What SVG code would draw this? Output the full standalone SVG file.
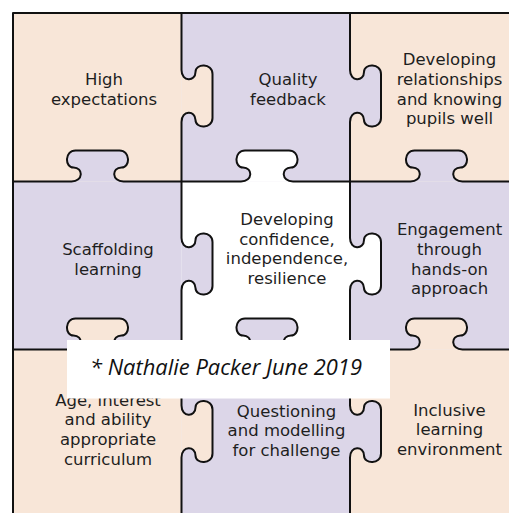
<svg xmlns="http://www.w3.org/2000/svg" width="509" height="513" viewBox="0 0 509 513">
<style>
.beige{fill:#F8E6D8}
.purple{fill:#DCD6E8}
.white{fill:#FFFFFF}
.lbl{font-family:"DejaVu Sans","Verdana",sans-serif;font-size:16.5px;fill:#1E1E1E;text-anchor:middle}
.edge{fill:none;stroke:#111111;stroke-width:2;stroke-linejoin:round}
.note{font-family:"Open Sans","Liberation Sans",sans-serif;font-style:italic;font-size:22px;fill:#111111}
</style>
<rect x="0" y="0" width="509" height="513" fill="#FFFFFF"/>
<!-- pieces: drawn so that tabs overlay neighbours -->
<g id="piece-1-3">
<rect class="beige" x="350" y="13" width="170" height="168.5"/>
<text class="lbl" x="449.5" y="65">Developing</text>
<text class="lbl" x="449.5" y="85">relationships</text>
<text class="lbl" x="449.5" y="104.5">and knowing</text>
<text class="lbl" x="449.5" y="124">pupils well</text>
</g>
<g id="piece-1-2">
<rect class="purple" x="181.5" y="13" width="168.5" height="168.5"/>
<path class="purple" d="M350,70 C350,82 364,82 364,72 C364,63 381,63 381,74 L381,118 C381,129 364,129 364,120 C364,110 350,110 350,122 Z"/>
<text class="lbl" x="288" y="85">Quality</text>
<text class="lbl" x="288" y="104.5">feedback</text>
</g>
<g id="piece-1-1">
<rect class="beige" x="13" y="13" width="168.5" height="168.5"/>
<path class="beige" d="M181.5,70 C181.5,82 195.5,82 195.5,72 C195.5,63 212.5,63 212.5,74 L212.5,118 C212.5,129 195.5,129 195.5,120 C195.5,110 181.5,110 181.5,122 Z"/>
<text class="lbl" x="104" y="85">High</text>
<text class="lbl" x="104" y="104.5">expectations</text>
</g>
<g id="piece-2-3">
<rect class="purple" x="350" y="181.5" width="170" height="168"/>
<path class="purple" d="M410.5,181.5 C422.5,181.5 422.5,167.5 412.5,167.5 C403.5,167.5 403.5,150.5 414.5,150.5 L458.5,150.5 C469.5,150.5 469.5,167.5 460.5,167.5 C450.5,167.5 450.5,181.5 462.5,181.5 Z"/>
<text class="lbl" x="449.5" y="235">Engagement</text>
<text class="lbl" x="449.5" y="255">through</text>
<text class="lbl" x="449.5" y="274.5">hands-on</text>
<text class="lbl" x="449.5" y="294">approach</text>
</g>
<g id="piece-2-2">
<rect class="white" x="181.5" y="181.5" width="168.5" height="168"/>
<path class="white" d="M350,238 C350,250 364,250 364,240 C364,231 381,231 381,242 L381,286 C381,297 364,297 364,288 C364,278 350,278 350,290 Z"/>
<path class="white" d="M241,181.5 C253,181.5 253,167.5 243,167.5 C234,167.5 234,150.5 245,150.5 L289,150.5 C300,150.5 300,167.5 291,167.5 C281,167.5 281,181.5 293,181.5 Z"/>
<text class="lbl" x="287" y="224.5">Developing</text>
<text class="lbl" x="287" y="244.5">confidence,</text>
<text class="lbl" x="287" y="264">independence,</text>
<text class="lbl" x="287" y="284">resilience</text>
</g>
<g id="piece-2-1">
<rect class="purple" x="13" y="181.5" width="168.5" height="168"/>
<path class="purple" d="M181.5,238 C181.5,250 195.5,250 195.5,240 C195.5,231 212.5,231 212.5,242 L212.5,286 C212.5,297 195.5,297 195.5,288 C195.5,278 181.5,278 181.5,290 Z"/>
<path class="purple" d="M71.5,181.5 C83.5,181.5 83.5,167.5 73.5,167.5 C64.5,167.5 64.5,150.5 75.5,150.5 L119.5,150.5 C130.5,150.5 130.5,167.5 121.5,167.5 C111.5,167.5 111.5,181.5 123.5,181.5 Z"/>
<text class="lbl" x="108" y="255">Scaffolding</text>
<text class="lbl" x="108" y="274.5">learning</text>
</g>
<g id="piece-3-3">
<rect class="beige" x="350" y="349.5" width="170" height="170"/>
<path class="beige" d="M410.5,349.5 C422.5,349.5 422.5,335.5 412.5,335.5 C403.5,335.5 403.5,318.5 414.5,318.5 L458.5,318.5 C469.5,318.5 469.5,335.5 460.5,335.5 C450.5,335.5 450.5,349.5 462.5,349.5 Z"/>
<text class="lbl" x="449.5" y="415.5">Inclusive</text>
<text class="lbl" x="449.5" y="435">learning</text>
<text class="lbl" x="449.5" y="455">environment</text>
</g>
<g id="piece-3-2">
<rect class="purple" x="181.5" y="349.5" width="168.5" height="170"/>
<path class="purple" d="M350,405.5 C350,417.5 364,417.5 364,407.5 C364,398.5 381,398.5 381,409.5 L381,453.5 C381,464.5 364,464.5 364,455.5 C364,445.5 350,445.5 350,457.5 Z"/>
<path class="purple" d="M241,349.5 C253,349.5 253,335.5 243,335.5 C234,335.5 234,318.5 245,318.5 L289,318.5 C300,318.5 300,335.5 291,335.5 C281,335.5 281,349.5 293,349.5 Z"/>
<text class="lbl" x="286.5" y="416.5">Questioning</text>
<text class="lbl" x="286.5" y="436">and modelling</text>
<text class="lbl" x="286.5" y="456">for challenge</text>
</g>
<g id="piece-3-1">
<rect class="beige" x="13" y="349.5" width="168.5" height="170"/>
<path class="beige" d="M181.5,405.5 C181.5,417.5 195.5,417.5 195.5,407.5 C195.5,398.5 212.5,398.5 212.5,409.5 L212.5,453.5 C212.5,464.5 195.5,464.5 195.5,455.5 C195.5,445.5 181.5,445.5 181.5,457.5 Z"/>
<path class="beige" d="M71.5,349.5 C83.5,349.5 83.5,335.5 73.5,335.5 C64.5,335.5 64.5,318.5 75.5,318.5 L119.5,318.5 C130.5,318.5 130.5,335.5 121.5,335.5 C111.5,335.5 111.5,349.5 123.5,349.5 Z"/>
<text class="lbl" x="108" y="405.5">Age, interest</text>
<text class="lbl" x="108" y="425">and ability</text>
<text class="lbl" x="108" y="444.5">appropriate</text>
<text class="lbl" x="108" y="464.5">curriculum</text>
</g>
<!-- connectors: piece boundaries -->
<g id="boundaries">
<path class="edge" d="M13,520 L13,13 L520,13"/>
<path class="edge" d="M181.5,13 L181.5,70 C181.5,82 195.5,82 195.5,72 C195.5,63 212.5,63 212.5,74 L212.5,118 C212.5,129 195.5,129 195.5,120 C195.5,110 181.5,110 181.5,122 L181.5,238 C181.5,250 195.5,250 195.5,240 C195.5,231 212.5,231 212.5,242 L212.5,286 C212.5,297 195.5,297 195.5,288 C195.5,278 181.5,278 181.5,290 L181.5,405.5 C181.5,417.5 195.5,417.5 195.5,407.5 C195.5,398.5 212.5,398.5 212.5,409.5 L212.5,453.5 C212.5,464.5 195.5,464.5 195.5,455.5 C195.5,445.5 181.5,445.5 181.5,457.5 L181.5,520"/>
<path class="edge" d="M350,13 L350,70 C350,82 364,82 364,72 C364,63 381,63 381,74 L381,118 C381,129 364,129 364,120 C364,110 350,110 350,122 L350,238 C350,250 364,250 364,240 C364,231 381,231 381,242 L381,286 C381,297 364,297 364,288 C364,278 350,278 350,290 L350,405.5 C350,417.5 364,417.5 364,407.5 C364,398.5 381,398.5 381,409.5 L381,453.5 C381,464.5 364,464.5 364,455.5 C364,445.5 350,445.5 350,457.5 L350,520"/>
<path class="edge" d="M13,181.5 L71.5,181.5 C83.5,181.5 83.5,167.5 73.5,167.5 C64.5,167.5 64.5,150.5 75.5,150.5 L119.5,150.5 C130.5,150.5 130.5,167.5 121.5,167.5 C111.5,167.5 111.5,181.5 123.5,181.5 L241,181.5 C253,181.5 253,167.5 243,167.5 C234,167.5 234,150.5 245,150.5 L289,150.5 C300,150.5 300,167.5 291,167.5 C281,167.5 281,181.5 293,181.5 L410.5,181.5 C422.5,181.5 422.5,167.5 412.5,167.5 C403.5,167.5 403.5,150.5 414.5,150.5 L458.5,150.5 C469.5,150.5 469.5,167.5 460.5,167.5 C450.5,167.5 450.5,181.5 462.5,181.5 L520,181.5"/>
<path class="edge" d="M13,349.5 L71.5,349.5 C83.5,349.5 83.5,335.5 73.5,335.5 C64.5,335.5 64.5,318.5 75.5,318.5 L119.5,318.5 C130.5,318.5 130.5,335.5 121.5,335.5 C111.5,335.5 111.5,349.5 123.5,349.5 L241,349.5 C253,349.5 253,335.5 243,335.5 C234,335.5 234,318.5 245,318.5 L289,318.5 C300,318.5 300,335.5 291,335.5 C281,335.5 281,349.5 293,349.5 L410.5,349.5 C422.5,349.5 422.5,335.5 412.5,335.5 C403.5,335.5 403.5,318.5 414.5,318.5 L458.5,318.5 C469.5,318.5 469.5,335.5 460.5,335.5 C450.5,335.5 450.5,349.5 462.5,349.5 L520,349.5"/>
</g>
<g id="credit">
<rect x="67" y="340" width="323" height="58.5" fill="#FFFFFF"/>
<text class="note" x="90" y="374.5" textLength="272" lengthAdjust="spacingAndGlyphs">* Nathalie Packer June 2019</text>
</g>
</svg>
